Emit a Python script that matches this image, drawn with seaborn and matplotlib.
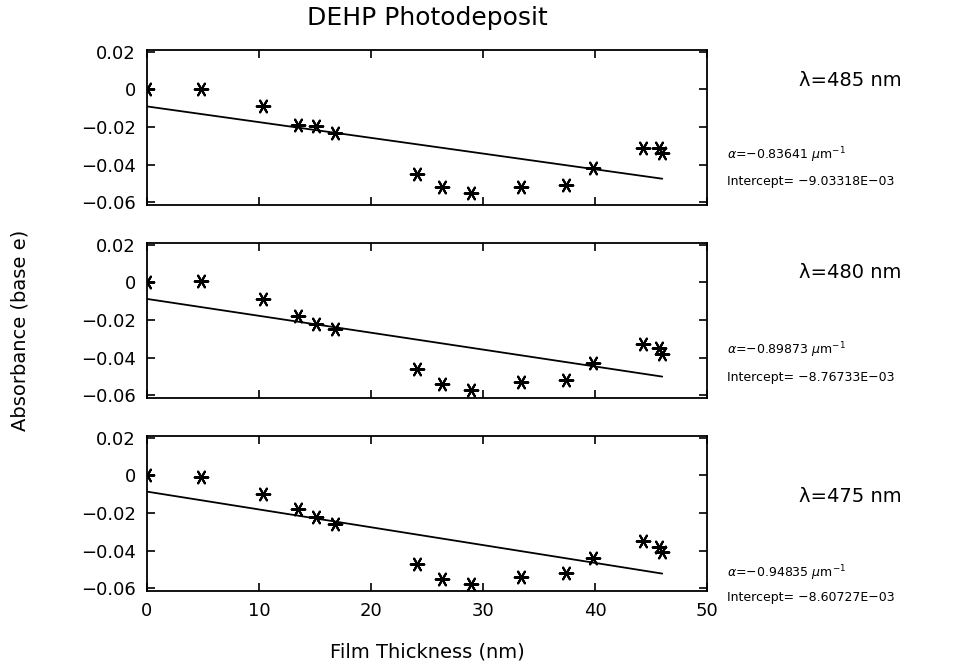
import numpy as np
import pandas as pd
import matplotlib
matplotlib.use("Agg")
import matplotlib.pyplot as plt
import seaborn as sns

thickness = [0.0, 4.8, 10.4, 13.5, 15.1, 16.8, 24.1, 26.3, 28.9, 33.4, 37.4, 39.8, 44.3, 45.7, 46.0]
abs_485 = [0.0, 0.0, -0.009, -0.019, -0.0195, -0.023, -0.045, -0.052, -0.055, -0.052, -0.051, -0.042, -0.031, -0.031, -0.034]
abs_480 = [0.0, 0.001, -0.009, -0.018, -0.022, -0.025, -0.046, -0.054, -0.057, -0.053, -0.052, -0.043, -0.033, -0.035, -0.038]
abs_475 = [0.0, -0.001, -0.010, -0.018, -0.022, -0.026, -0.047, -0.055, -0.058, -0.054, -0.052, -0.044, -0.035, -0.038, -0.041]

wavelengths = ["485", "480", "475"]
alphas = [-0.83641, -0.89873, -0.94835]          # per micrometre
intercepts = [-9.03318e-03, -8.76733e-03, -8.60727e-03]
intercept_labels = ["-9.03318E-03", "-8.76733E-03", "-8.60727E-03"]

fit_x = [0.0, 46.0]
x_ticks = [0, 10, 20, 30, 40, 50]
y_ticks = [0.02, 0, -0.02, -0.04, -0.06]
y_tick_labels = ["0.02", "0", "\u22120.02", "\u22120.04", "\u22120.06"]

sns.set_theme(style="white")
plt.rcParams['font.family'] = ['DejaVu Sans']
plt.rcParams['text.color'] = 'black'
plt.rcParams['xtick.color'] = 'black'
plt.rcParams['ytick.color'] = 'black'
plt.rcParams['xtick.labelcolor'] = 'black'
plt.rcParams['ytick.labelcolor'] = 'black'

fig = plt.figure(figsize=(9.64, 6.65), dpi=100)
W, H = 964, 665
x0, x1 = 147, 707
panels = [(50, 205), (243, 398), (436, 591)]
series = [abs_485, abs_480, abs_475]
text_y = [(80, 155, 181), (273, 350, 377), (497, 573, 598)]

for i, (top, bot) in enumerate(panels):
    ax = fig.add_axes([x0 / W, 1 - bot / H, (x1 - x0) / W, (bot - top) / H])
    df = pd.DataFrame({"x": thickness, "y": series[i]})
    sns.scatterplot(data=df, x="x", y="y", ax=ax, marker=(6, 2, 90), s=95,
                    color="black", linewidth=1.5, edgecolor="black", zorder=3)
    fit_y = [intercepts[i] + alphas[i] * 1e-3 * xv for xv in fit_x]
    fdf = pd.DataFrame({"x": fit_x, "y": fit_y})
    sns.lineplot(data=fdf, x="x", y="y", ax=ax, color="black", linewidth=1.3)
    ax.set_xlim(0, 50)
    ax.set_ylim(-0.0615, 0.021)
    ax.set_xticks(x_ticks)
    ax.set_yticks(y_ticks)
    ax.set_yticklabels(y_tick_labels, fontsize=13)
    ax.tick_params(axis="both", direction="in", length=6, width=1.2, color="black",
                   labelcolor="black",
                   top=True, right=True, bottom=True, left=True, pad=8)
    if i < 2:
        ax.set_xticklabels([])
    else:
        ax.set_xticklabels([str(t) for t in x_ticks], fontsize=13)
    ax.set_xlabel("")
    ax.set_ylabel("")
    for sp in ax.spines.values():
        sp.set_color("black")
        sp.set_linewidth(1.3)
    ly, ay, iy = text_y[i]
    fig.text(850 / W, 1 - ly / H, "\u03bb=" + wavelengths[i] + " nm", fontsize=14,
             ha="center", va="center", color="black")
    fig.text(727 / W, 1 - ay / H,
             r"$\alpha$=" + "\u2212" + f"{abs(alphas[i]):.5f} " + r"$\mu$m$^{-1}$",
             fontsize=9, ha="left", va="center", color="black")
    fig.text(727 / W, 1 - iy / H, "Intercept= " + intercept_labels[i].replace("-", "\u2212"),
             fontsize=9, ha="left", va="center", color="black")

fig.text(427 / W, 1 - 18 / H, "DEHP Photodeposit", fontsize=18, ha="center", va="center",
         color="black")
fig.text(427 / W, 1 - 652 / H, "Film Thickness (nm)", fontsize=14, ha="center", va="center",
         color="black")
fig.text(20 / W, 1 - 330 / H, "Absorbance (base e)", fontsize=14, rotation=90,
         ha="center", va="center", color="black")

fig.savefig("out.png", dpi=100, facecolor="white")
